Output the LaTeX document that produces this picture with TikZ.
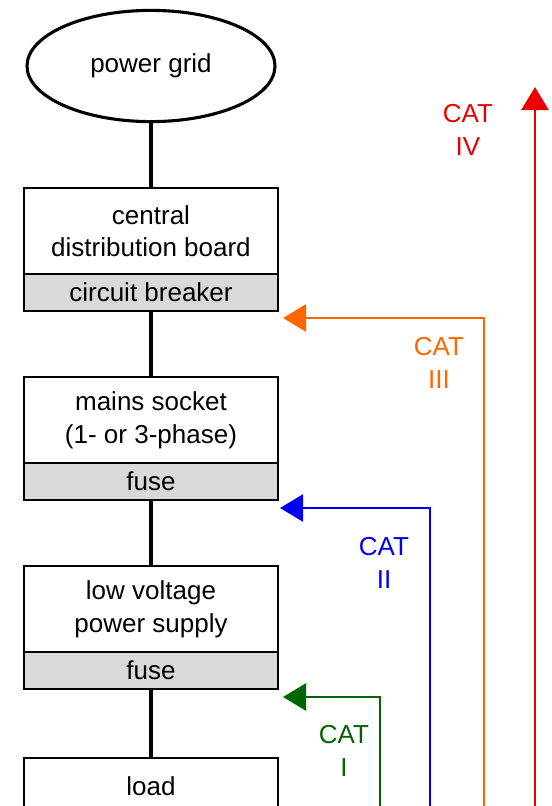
\documentclass[tikz,border=0pt]{standalone}
\usepackage{fontspec}
\setmainfont{Liberation Sans}
\usetikzlibrary{positioning,arrows.meta,shapes.geometric}
\definecolor{catred}{RGB}{235,0,0}
\definecolor{catorange}{RGB}{255,102,0}
\definecolor{catblue}{RGB}{0,0,240}
\definecolor{catgreen}{RGB}{0,100,0}
\begin{document}
\begin{tikzpicture}[font=\fontsize{18.5}{23}\selectfont,
  mainbox/.style={draw, line width=1.4pt, outer sep=0pt, inner sep=0pt, align=center, minimum width=6.35cm, minimum height=2.15cm},
  greybox/.style={mainbox, fill=black!15, minimum height=0.925cm},
  wire/.style={line width=2.3pt},
  catline/.style={line width=1.9pt, -{Triangle[length=0.58cm, width=0.68cm]}}]
\clip (0,0) rectangle (13.8,-20.15);
\node[ellipse, draw, line width=2.2pt, minimum width=6.2cm, minimum height=2.78cm, inner sep=0pt] (grid) at (3.775,-1.65) {power grid};
\node[mainbox, below=1.625cm of grid] (board) {central\\distribution board};
\node[greybox, below=0pt of board] (breaker) {circuit breaker};
\node[mainbox, below=1.65cm of breaker] (socket) {mains socket\\(1- or 3-phase)};
\node[greybox, below=0pt of socket] (fuseA) {fuse};
\node[mainbox, below=1.65cm of fuseA] (supply) {low voltage\\power supply};
\node[greybox, below=0pt of supply] (fuseB) {fuse};
\node[mainbox, minimum height=1.4cm, below=1.725cm of fuseB] (load) {load};
\draw[wire] (grid) -- (board); \draw[wire] (breaker) -- (socket); \draw[wire] (fuseA) -- (supply); \draw[wire] (fuseB) -- (load);
\coordinate (ivfoot) at (13.375,-20.5); \coordinate (ivtip) at (13.375,-2.175);
\coordinate (iiifoot) at (12.1,-20.5); \coordinate (iiitip) at (7.075,-7.95);
\coordinate (iifoot) at (10.75,-20.5); \coordinate (iitip) at (7.0,-12.7);
\coordinate (ifoot) at (9.5,-20.5); \coordinate (itip) at (7.075,-17.425);
\draw[catline, catred] (ivfoot) -- (ivtip);
\draw[catline, catorange] (iiifoot) |- (iiitip);
\draw[catline, catblue] (iifoot) |- (iitip);
\draw[catline, catgreen] (ifoot) |- (itip);
\node[align=center, catred] (catIV) at (11.7,-3.25) {CAT\\IV};
\node[align=center, catorange] (catIII) at (10.975,-9.075) {CAT\\III};
\node[align=center, catblue] (catII) at (9.6,-14.075) {CAT\\II};
\node[align=center, catgreen] (catI) at (8.6,-18.775) {CAT\\I};
\end{tikzpicture}
\end{document}
